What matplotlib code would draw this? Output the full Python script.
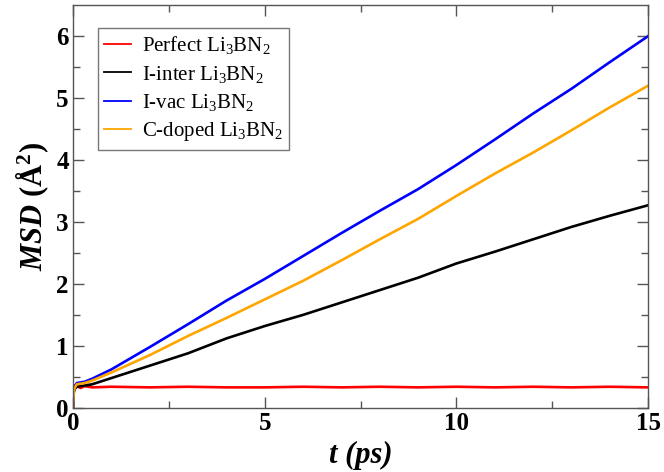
import numpy as np
import matplotlib
matplotlib.use('Agg')
import matplotlib.pyplot as plt

plt.rcParams['font.family'] = ['Liberation Serif', 'DejaVu Serif']
plt.rcParams['mathtext.fontset'] = 'custom'
plt.rcParams['mathtext.rm'] = 'Liberation Serif:bold'
plt.rcParams['mathtext.it'] = 'Liberation Serif:italic:bold'
plt.rcParams['mathtext.bf'] = 'Liberation Serif:bold'

# time (ps)
t = [0, 0.02, 0.05, 0.1, 0.2, 0.3, 0.5, 1, 2, 3, 4, 5, 6, 7, 8, 9, 10, 11, 12, 13, 14, 15]

msd_perfect = [0, 0.28, 0.36, 0.35, 0.32, 0.35, 0.33, 0.34, 0.33, 0.34, 0.33, 0.33, 0.34, 0.33, 0.34, 0.33, 0.34, 0.33, 0.34, 0.33, 0.34, 0.33]
msd_inter = [0, 0.26, 0.31, 0.34, 0.35, 0.36, 0.38, 0.48, 0.68, 0.88, 1.12, 1.32, 1.50, 1.70, 1.90, 2.10, 2.33, 2.52, 2.72, 2.92, 3.10, 3.27]
msd_vac = [0, 0.28, 0.35, 0.40, 0.41, 0.42, 0.47, 0.62, 0.98, 1.35, 1.73, 2.08, 2.45, 2.82, 3.18, 3.53, 3.92, 4.33, 4.75, 5.15, 5.58, 6.00]
msd_cdoped = [0, 0.27, 0.33, 0.38, 0.39, 0.40, 0.44, 0.57, 0.85, 1.16, 1.45, 1.75, 2.05, 2.38, 2.72, 3.05, 3.42, 3.78, 4.12, 4.48, 4.85, 5.20]

labels = [r'Perfect Li$\mathregular{_3}$BN$\mathregular{_2}$',
          r'I-inter Li$\mathregular{_3}$BN$\mathregular{_2}$',
          r'I-vac Li$\mathregular{_3}$BN$\mathregular{_2}$',
          r'C-doped Li$\mathregular{_3}$BN$\mathregular{_2}$']
colors = ['red', 'black', 'blue', 'orange']

fig = plt.figure(figsize=(6.64, 4.72), dpi=100)
ax = fig.add_axes([0.110, 0.136, 0.866, 0.853])

for y, lab, c in zip([msd_perfect, msd_inter, msd_vac, msd_cdoped], labels, colors):
    ax.plot(t, y, color=c, lw=1.9, label=lab)

ax.set_xlim(0, 15)
ax.set_ylim(0, 6.5)
ax.set_xticks([0, 5, 10, 15])
ax.set_xticks([2.5, 7.5, 12.5], minor=True)
ax.set_yticks(range(0, 7))
ax.set_yticks(np.arange(0.5, 6.5, 1.0), minor=True)
ax.tick_params(which='both', direction='in', top=True, right=True, width=1, color='#555555')
ax.tick_params(which='major', length=8, labelsize=18, pad=3)
ax.tick_params(which='minor', length=5)
for lab in ax.get_xticklabels() + ax.get_yticklabels():
    lab.set_fontweight('bold')
for s in ax.spines.values():
    s.set_color('#555555')
    s.set_linewidth(1)

ax.set_xlabel('t (ps)', fontsize=22, fontweight='bold', fontstyle='italic', labelpad=4)
ax.set_ylabel(r'$\mathit{MSD}$ $(\mathrm{\AA}^2)$', fontsize=22, labelpad=4)

leg = ax.legend(loc='upper left', bbox_to_anchor=(0.0435, 0.943), borderaxespad=0,
                fontsize=15, frameon=True, fancybox=False, edgecolor='#555555',
                handlelength=1.3, borderpad=0.3, labelspacing=0.35, handletextpad=0.5)
leg.get_frame().set_linewidth(1)
for ln in leg.get_lines():
    ln.set_linewidth(1.3)

fig.savefig('out.png', dpi=100)
